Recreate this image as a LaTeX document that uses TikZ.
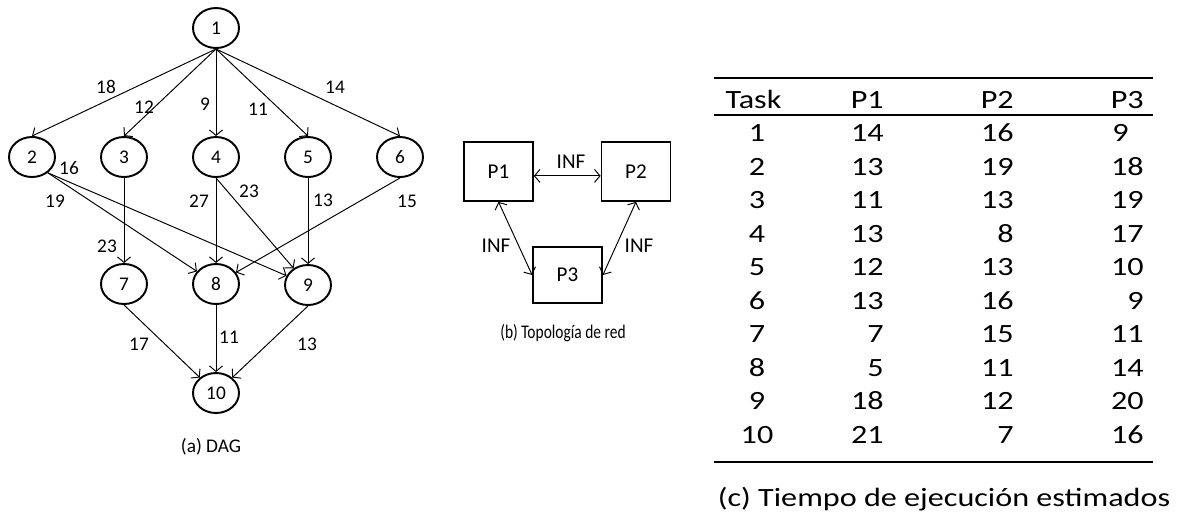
\documentclass[tikz,border=0pt]{standalone}
\usepackage{fontspec}
\setmainfont{Carlito}
\newfontfamily\narrowfont[FakeStretch=0.8]{Carlito}
\newfontfamily\widefont[FakeStretch=1.22]{Carlito}
\usetikzlibrary{arrows.meta,shapes.geometric}
\tikzset{
  task/.style={ellipse,draw,line width=1.1pt,minimum width=0.92cm,minimum height=0.8cm,inner sep=0pt,font=\fontsize{11}{13}\selectfont},
  wlabel/.style={inner sep=0pt,font=\fontsize{11}{13}\selectfont},
  edge/.style={line width=0.55pt,-{Straight Barb[length=1.1mm,width=2.6mm]}},
  proc/.style={rectangle,draw,line width=1pt,minimum width=1.38cm,inner sep=0pt,font=\fontsize{12}{14}\selectfont},
  link/.style={line width=0.55pt,{Straight Barb[length=1.1mm,width=2.6mm]}-{Straight Barb[length=1.1mm,width=2.6mm]}},
  netlabel/.style={inner sep=0pt,font=\fontsize{12}{14}\selectfont},
  cell/.style={inner sep=0pt,anchor=base east,font=\widefont\fontsize{15}{18}\selectfont},
  rule/.style={line width=0.9pt}
}
\begin{document}
\begin{tikzpicture}[x=0.02cm,y=-0.02cm]
\useasboundingbox (0,0) rectangle (1180,512);

% ---- (a) task graph ----
\node[task] (n1) at (216,28) {1};
\node[task] (n2) at (32,157) {2};
\node[task] (n3) at (124,157) {3};
\node[task] (n4) at (216,157) {4};
\node[task] (n5) at (308,157) {5};
\node[task] (n6) at (400,157) {6};
\node[task] (n7) at (124,284) {7};
\node[task] (n8) at (216,284) {8};
\node[task] (n9) at (308,285) {9};
\node[task] (n10) at (216,393) {10};

\draw[edge] (n1.south) -- (n2.north);
\draw[edge] (n1.south) -- (n3.north);
\draw[edge] (n1.south) -- (n4.north);
\draw[edge] (n1.south) -- (n5.north);
\draw[edge] (n1.south) -- (n6.north);
\draw[edge] (n2.-45) -- (n8);
\draw[edge] (n2.-45) -- (n9);
\draw[edge] (n3.south) -- (n7.north);
\draw[edge] (n4.south) -- (n8.north);
\draw[edge] (n4.south) -- (n9);
\draw[edge] (n5.south) -- (n9.north);
\draw[edge] (n6.south) -- (n8);
\draw[edge] (n7.south) -- (n10);
\draw[edge] (n8.south) -- (n10.north);
\draw[edge] (n9.south) -- (n10);

\node[wlabel] (w12) at (106,87) {18};
\node[wlabel] (w13) at (144,107) {12};
\node[wlabel] (w14) at (205,104) {9};
\node[wlabel] (w15) at (258,109) {11};
\node[wlabel] (w16) at (335,87) {14};
\node[wlabel] (w28) at (69,168) {16};
\node[wlabel] (w29) at (55,201) {19};
\node[wlabel] (w37) at (107,246) {23};
\node[wlabel] (w48) at (199,201) {27};
\node[wlabel] (w49) at (249,191) {23};
\node[wlabel] (w59) at (323,200) {13};
\node[wlabel] (w68) at (407,201) {15};
\node[wlabel] (w710) at (139,344) {17};
\node[wlabel] (w810) at (229,337) {11};
\node[wlabel] (w910) at (307,344) {13};
\node[wlabel] (capa) at (211,447) {(a) DAG};

% ---- (b) network topology ----
\node[proc,minimum height=1.18cm] (P1) at (498.5,171.5) {P1};
\node[proc,minimum height=1.18cm] (P2) at (636,171.5) {P2};
\node[proc,minimum height=1.12cm] (P3) at (567.5,275) {P3};
\draw[link] ([yshift=-2.5pt]P1.east) -- ([yshift=-2.5pt]P2.west);
\draw[link] (P1.south) -- (P3.west);
\draw[link] (P2.south) -- (P3.east);
\node[netlabel] (inf12) at (571,162) {INF};
\node[netlabel] (inf13) at (496,246) {INF};
\node[netlabel] (inf23) at (639,246) {INF};
\node[inner sep=0pt,font=\narrowfont\fontsize{11}{13}\selectfont] (capb) at (563,333) {(b) Topología de red};

% ---- (c) execution-time table ----
\coordinate (tl) at (714,78);
\coordinate (tr) at (1153,78);
\coordinate (ml) at (714,115);
\coordinate (mr) at (1153,115);
\coordinate (bl) at (714,462);
\coordinate (br) at (1153,462);
\draw[rule] (tl) -- (tr);
\draw[rule] (ml) -- (mr);
\draw[rule] (bl) -- (br);

\node[cell,anchor=base] (hT) at (753.5,108.3) {Task};
\node[cell] (h1) at (884,108.3) {P1};
\node[cell] (h2) at (1014,108.3) {P2};
\node[cell] (h3) at (1144,108.3) {P3};

\foreach \t/\a/\b/\c [count=\i from 0] in {1/14/16/9,2/13/19/18,3/11/13/19,4/13/8/17,5/12/13/10,6/13/16/9,7/7/15/11,8/5/11/14,9/18/12/20,10/21/7/16}{
  \node[cell,anchor=base] (t\t) at (757,141.7+33.5*\i) {\t};
  \node[cell] (a\t) at (884,141.7+33.5*\i) {\a};
  \node[cell] (b\t) at (1014,141.7+33.5*\i) {\b};
  \ifnum\t=1
    \node[cell,anchor=base west] (c\t) at (1112,141.7+33.5*\i) {\c};
  \else
    \node[cell] (c\t) at (1144,141.7+33.5*\i) {\c};
  \fi
}
\node[inner sep=0pt,font=\widefont\fontsize{15}{18}\selectfont] (capc) at (944,499) {(c) Tiempo de ejecución estimados};
\end{tikzpicture}
\end{document}
